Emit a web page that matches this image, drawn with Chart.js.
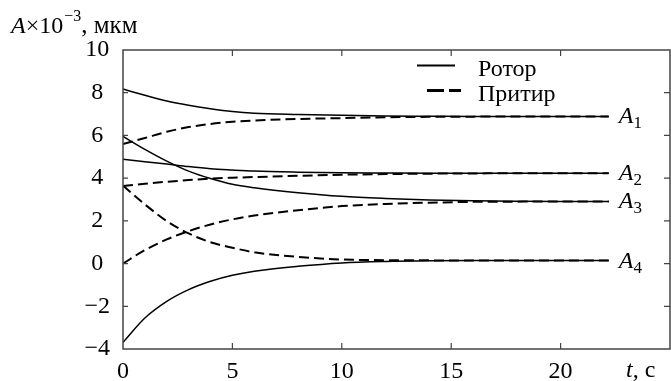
<!DOCTYPE html>
<html>
<head>
<meta charset="utf-8">
<script src="https://cdn.jsdelivr.net/npm/chart.js@4.4.1/dist/chart.umd.min.js"></script>
<style>
  html, body { margin: 0; padding: 0; background: #fff; }
  #wrap { width: 671px; height: 381px; position: relative; }
</style>
</head>
<body>
<div id="wrap"><canvas id="myChart"></canvas></div>
<script>
"use strict";

// time, s
var tValues = [0, 1, 2, 3, 4, 5, 6, 8, 10, 12, 14, 16, 18, 20, 22.2];

// A x 10^-3, mkm  (rotor = solid, pritir = dashed)
var rotorA1  = [8.17, 7.88, 7.61, 7.41, 7.25, 7.12, 7.04, 6.98, 6.94, 6.91, 6.90, 6.89, 6.89, 6.89, 6.89];
var pritirA1 = [5.60, 5.88, 6.17, 6.39, 6.54, 6.64, 6.70, 6.77, 6.81, 6.85, 6.87, 6.88, 6.89, 6.89, 6.89];
var rotorA2  = [4.88, 4.77, 4.66, 4.54, 4.44, 4.38, 4.33, 4.28, 4.25, 4.24, 4.23, 4.23, 4.23, 4.23, 4.23];
var pritirA2 = [3.63, 3.74, 3.83, 3.91, 3.98, 4.02, 4.05, 4.11, 4.16, 4.19, 4.21, 4.22, 4.23, 4.23, 4.23];
var rotorA3  = [5.95, 5.35, 4.80, 4.33, 3.98, 3.71, 3.55, 3.32, 3.15, 3.05, 2.98, 2.94, 2.92, 2.91, 2.91];
var pritirA3 = [0.00, 0.63, 1.13, 1.52, 1.83, 2.07, 2.25, 2.50, 2.69, 2.79, 2.85, 2.89, 2.90, 2.91, 2.91];
var rotorA4  = [-3.69, -2.55, -1.77, -1.22, -0.83, -0.55, -0.36, -0.13, 0.03, 0.10, 0.13, 0.14, 0.14, 0.14, 0.14];
var pritirA4 = [3.65, 2.77, 1.99, 1.41, 1.00, 0.74, 0.53, 0.31, 0.19, 0.16, 0.15, 0.14, 0.14, 0.14, 0.14];

var curveNames = ['1', '2', '3', '4'];
var legendNames = ['Ротор', 'Притир'];
var xTicks = [0, 5, 10, 15, 20];
var yTicks = [-4, -2, 0, 2, 4, 6, 8, 10];

var SERIF = "'Liberation Serif'";
Chart.defaults.font.family = SERIF;
Chart.defaults.color = '#000';

function pts(ys) {
    var out = [];
    for (var i = 0; i < tValues.length; i++) {
        out.push({ x: tValues[i], y: ys[i] });
    }
    return out;
}

function solid(ys, name) {
    return {
        label: name, data: pts(ys), borderColor: '#000', borderWidth: 1.5,
        pointRadius: 0, cubicInterpolationMode: 'monotone', fill: false
    };
}
function dashed(ys, name) {
    return {
        label: name, data: pts(ys), borderColor: '#000', borderWidth: 2,
        borderDash: [10, 5], pointRadius: 0, cubicInterpolationMode: 'monotone', fill: false
    };
}

// frame, inward ticks, legend and text labels
var decor = {
    id: 'decor',
    afterDraw: function(chart) {
        var ctx = chart.ctx;
        var a = chart.chartArea;
        var xs = chart.scales.x, ys = chart.scales.y;
        ctx.save();
        ctx.strokeStyle = '#444';
        ctx.lineWidth = 1.5;
        ctx.strokeRect(a.left, a.top, a.right - a.left, a.bottom - a.top);
        ctx.lineWidth = 1.2;
        ctx.beginPath();
        xTicks.forEach(function(v) {
            if (v === 0) return;
            var px = xs.getPixelForValue(v);
            ctx.moveTo(px, a.bottom); ctx.lineTo(px, a.bottom - 6);
            ctx.moveTo(px, a.top); ctx.lineTo(px, a.top + 6);
        });
        yTicks.forEach(function(v) {
            if (v === -4 || v === 10) return;
            var py = ys.getPixelForValue(v);
            ctx.moveTo(a.left, py); ctx.lineTo(a.left + 5, py);
            ctx.moveTo(a.right, py); ctx.lineTo(a.right - 6, py);
        });
        ctx.stroke();

        // legend
        ctx.strokeStyle = '#000';
        ctx.lineWidth = 1.8;
        ctx.beginPath();
        ctx.moveTo(417, 65.5); ctx.lineTo(455, 65.5);
        ctx.stroke();
        ctx.lineWidth = 3;
        ctx.setLineDash([17, 5]);
        ctx.beginPath();
        ctx.moveTo(427, 90.5); ctx.lineTo(461, 90.5);
        ctx.stroke();
        ctx.setLineDash([]);
        ctx.fillStyle = '#000';
        ctx.textAlign = 'left';
        ctx.textBaseline = 'alphabetic';
        ctx.font = '24px ' + SERIF;
        ctx.fillText(legendNames[0], 478, 76);
        ctx.fillText(legendNames[1], 478, 101);

        // curve names at line ends
        for (var k = 0; k < curveNames.length; k++) {
            var meta = chart.getDatasetMeta(k * 2);
            var last = meta.data[meta.data.length - 1];
            var x0 = last.x + 10, y0 = last.y + 7;
            ctx.font = 'italic 24px ' + SERIF;
            ctx.fillText('A', x0, y0);
            var w = ctx.measureText('A').width;
            ctx.font = '17px ' + SERIF;
            ctx.fillText(curveNames[k], x0 + w, y0 + 5);
        }

        // y title
        var x = 11, b = 33;
        ctx.font = 'italic 24px ' + SERIF;
        ctx.fillText('A', x, b); x += ctx.measureText('A').width;
        ctx.font = '24px ' + SERIF;
        ctx.fillText('×10', x, b); x += ctx.measureText('×10').width + 1;
        ctx.font = '16px ' + SERIF;
        ctx.fillText('−3', x, b - 12); x += ctx.measureText('−3').width;
        ctx.font = '25px ' + SERIF;
        ctx.fillText(', мкм', x, b);

        // x title
        x = 626; b = 377;
        ctx.font = 'italic 24px ' + SERIF;
        ctx.fillText('t', x, b); x += ctx.measureText('t').width;
        ctx.font = '24px ' + SERIF;
        ctx.fillText(', с', x, b);
        ctx.restore();
    }
};

var ctx1 = document.getElementById('myChart').getContext('2d');
var myChart = new Chart(ctx1, {
    type: 'line',
    data: {
        datasets: [
            solid(rotorA1, 'Ротор A1'), dashed(pritirA1, 'Притир A1'),
            solid(rotorA2, 'Ротор A2'), dashed(pritirA2, 'Притир A2'),
            solid(rotorA3, 'Ротор A3'), dashed(pritirA3, 'Притир A3'),
            solid(rotorA4, 'Ротор A4'), dashed(pritirA4, 'Притир A4')
        ]
    },
    options: {
        responsive: true,
        maintainAspectRatio: false,
        animation: false,
        layout: { padding: { left: 0, right: 1, top: 50, bottom: 0 } },
        plugins: { legend: { display: false }, tooltip: { enabled: false } },
        scales: {
            x: {
                type: 'linear', min: 0, max: 25,
                grid: { display: false, drawTicks: false },
                border: { display: false },
                afterBuildTicks: function(s) { s.ticks = xTicks.map(function(v) { return { value: v }; }); },
                afterFit: function(s) { s.height = 32; },
                ticks: { font: { size: 24 }, padding: 8, maxRotation: 0, autoSkip: false }
            },
            y: {
                min: -4, max: 10,
                grid: { display: false, drawTicks: false },
                border: { display: false },
                afterBuildTicks: function(s) { s.ticks = yTicks.map(function(v) { return { value: v }; }); },
                afterFit: function(s) { s.width = 123; },
                ticks: {
                    font: { size: 24 }, padding: 13, crossAlign: 'center',
                    callback: function(v) { return v < 0 ? '−' + Math.abs(v) : String(v); }
                }
            }
        }
    },
    plugins: [decor]
});
</script>
</body>
</html>
